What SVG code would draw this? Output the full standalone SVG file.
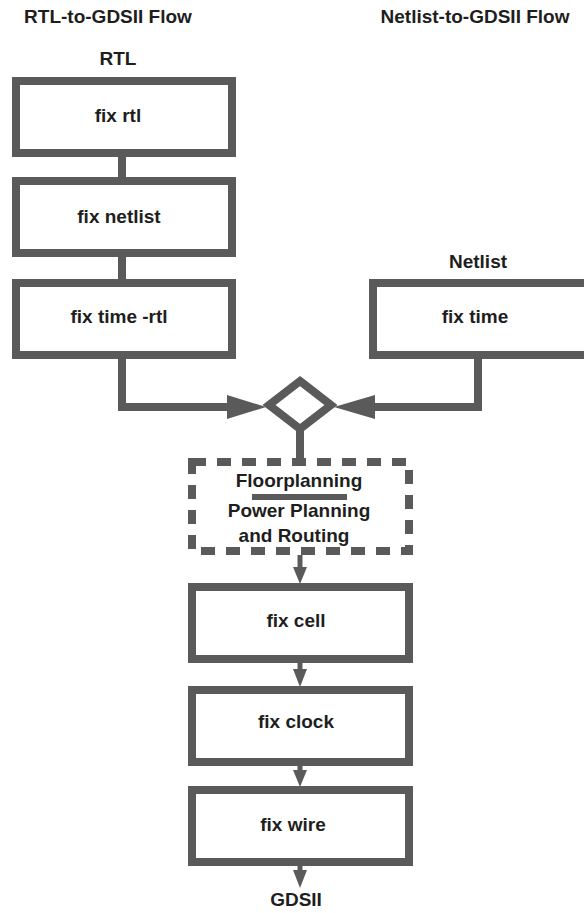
<svg xmlns="http://www.w3.org/2000/svg" width="584" height="913" viewBox="0 0 584 913">
  <style>
    .box { fill: #ffffff; stroke: #5a5a5a; stroke-width: 8; }
    .dash { fill: #ffffff; stroke: #5a5a5a; stroke-width: 8; stroke-dasharray: 14 11; }
    .wire { fill: none; stroke: #5a5a5a; stroke-width: 8; }
    .thin { fill: none; stroke: #5a5a5a; stroke-width: 5; }
    .head { fill: #5a5a5a; }
    text { font-family: "Liberation Sans", Arial, sans-serif; font-weight: bold; font-size: 19px; fill: #1e1e1e; text-anchor: middle; }
  </style>

  <!-- flow titles -->
  <g id="titles">
    <text x="108" y="23">RTL-to-GDSII Flow</text>
    <text x="475" y="23">Netlist-to-GDSII Flow</text>
    <text x="118" y="65">RTL</text>
    <text x="478" y="268">Netlist</text>
    <text x="296" y="906">GDSII</text>
  </g>

  <!-- connectors -->
  <g id="connectors">
    <line class="wire" x1="122" y1="157" x2="122" y2="177"/>
    <line class="wire" x1="122" y1="257" x2="122" y2="279"/>
    <polyline class="wire" points="122,359 122,407 230,407"/>
    <polygon class="head" points="227,395 266,407 227,419"/>
    <polyline class="wire" points="478,359 478,407 372,407"/>
    <polygon class="head" points="375,395 334,407 375,419"/>
    <line class="wire" x1="300" y1="429" x2="300" y2="462"/>
    <line class="thin" x1="300" y1="555" x2="300" y2="570"/>
    <polygon class="head" points="293,567 307,567 300,584"/>
    <line class="thin" x1="300" y1="663" x2="300" y2="672"/>
    <polygon class="head" points="293,669 307,669 300,687"/>
    <line class="thin" x1="300" y1="766" x2="300" y2="773"/>
    <polygon class="head" points="293,770 307,770 300,787"/>
    <line class="thin" x1="300" y1="866" x2="300" y2="873"/>
    <polygon class="head" points="293,870 307,870 300,888"/>
  </g>

  <g id="fix-rtl">
    <rect class="box" x="16" y="81" width="216" height="72"/>
    <text x="118" y="122">fix rtl</text>
  </g>

  <g id="fix-netlist">
    <rect class="box" x="16" y="181" width="216" height="72"/>
    <text x="119" y="223">fix netlist</text>
  </g>

  <g id="fix-time-rtl">
    <rect class="box" x="16" y="283" width="216" height="72"/>
    <text x="119" y="323">fix time -rtl</text>
  </g>

  <g id="fix-time">
    <rect class="box" x="373" y="283" width="216" height="72"/>
    <text x="475" y="323">fix time</text>
  </g>

  <g id="merge">
    <polygon class="wire" points="300,381 331,405 300,429 269,405"/>
  </g>

  <g id="floorplanning">
    <rect class="dash" x="192" y="462" width="217" height="89"/>
    <text x="299" y="487">Floorplanning</text>
    <rect x="252" y="494" width="95" height="6" fill="#5a5a5a"/>
    <text x="299" y="517">Power Planning</text>
    <text x="294" y="542">and Routing</text>
  </g>

  <g id="fix-cell">
    <rect class="box" x="192" y="587" width="217" height="72"/>
    <text x="296" y="627">fix cell</text>
  </g>

  <g id="fix-clock">
    <rect class="box" x="192" y="690" width="217" height="72"/>
    <text x="296" y="728">fix clock</text>
  </g>

  <g id="fix-wire">
    <rect class="box" x="192" y="790" width="217" height="72"/>
    <text x="293" y="831">fix wire</text>
  </g>
</svg>
